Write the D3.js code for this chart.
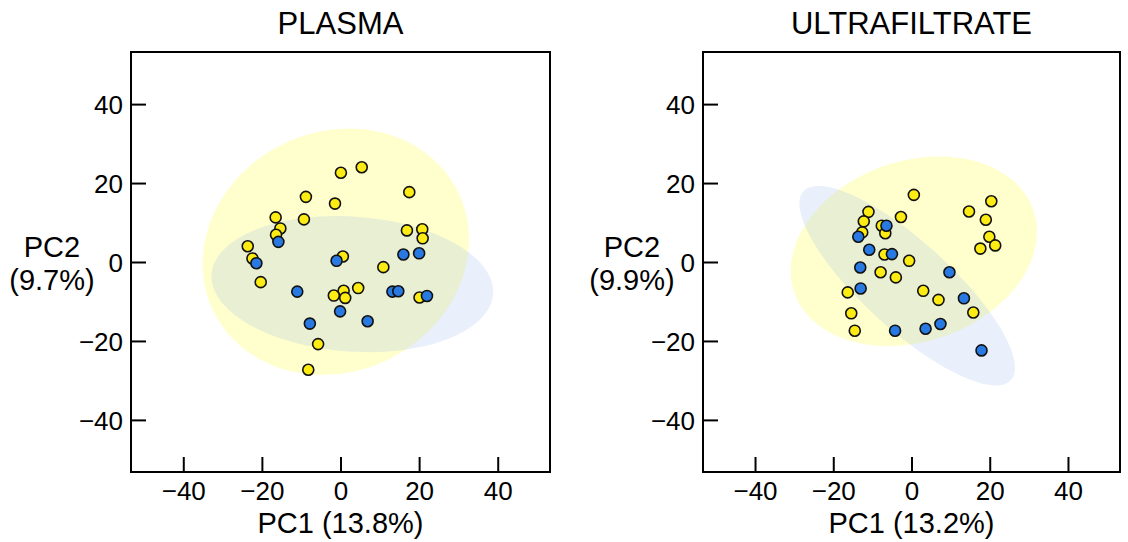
<!DOCTYPE html>
<html><head><meta charset="utf-8">
<script src="https://cdn.jsdelivr.net/npm/d3@7"></script>
<style>body{margin:0;background:#fff}svg{display:block}text{font-family:"Liberation Sans",Arial,sans-serif;fill:#000}</style>
</head><body><svg id="c" width="1128" height="542"></svg>
<script>
// ---- data ----
const panelTitles = ["PLASMA", "ULTRAFILTRATE"];
const xLabels = ["PC1 (13.8%)", "PC1 (13.2%)"];
const yLabels = [["PC2", "(9.7%)"], ["PC2", "(9.9%)"]];
const tickValues = [-40, -20, 0, 20, 40];

const plasmaYellowX = [0.1, 5.4, 17.5, -8.8, -1.4, -16.5, -9.3, -15.3, -16.4, 16.9, 20.8, 20.9, -23.6, -22.4, 0.6, 10.9, -20.3, 4.5, 0.8, -1.7, 1.2, 20.1, -5.7, -8.2];
const plasmaYellowY = [22.6, 24.0, 17.7, 16.5, 14.8, 11.3, 10.8, 8.5, 6.9, 8.0, 8.3, 6.0, 4.0, 0.9, 1.4, -1.3, -5.1, -6.6, -7.3, -8.5, -9.1, -9.0, -20.8, -27.3];
const plasmaBlueX = [-15.8, -21.4, -1.0, 16.0, 20.0, -11.0, 13.2, 14.7, 22.0, -0.1, -7.8, 6.9];
const plasmaBlueY = [5.1, -0.3, 0.3, 1.9, 2.2, -7.5, -7.5, -7.4, -8.6, -12.5, -15.6, -15.0];

const ultraYellowX = [0.6, 20.4, -11.0, 14.7, -2.7, -12.2, 19.0, -7.6, -6.7, -12.6, 19.9, 21.4, 17.6, -6.9, -0.6, -7.9, -4.0, -16.3, 3.0, 6.9, -15.4, 15.8, -14.5];
const ultraYellowY = [17.0, 15.4, 12.7, 12.8, 11.4, 10.3, 10.7, 9.2, 7.3, 7.5, 6.4, 4.2, 3.4, 1.9, 0.3, -2.6, -3.9, -7.7, -7.3, -9.6, -13.0, -12.8, -17.4];
const ultraBlueX = [-6.4, -13.6, -10.8, -5.0, -13.1, 9.7, -13.0, 13.4, 7.4, 3.6, -4.2, 17.9];
const ultraBlueY = [9.2, 6.4, 3.1, 2.0, -1.4, -2.6, -6.7, -9.2, -15.7, -16.9, -17.4, -22.4];

// ellipses: [cx, cy, semi-major, semi-minor, angle deg]
const plasmaYellowEllipse = [-1.2, 2.6, 34.6, 30.4, 25];
const plasmaBlueEllipse = [3.0, -5.6, 35.9, 17.1, -4];
const ultraYellowEllipse = [0.6, 2.7, 32.3, 22.9, 18.5];
const ultraBlueEllipse = [-1.1, -6.0, 35.7, 11.1, -42];

// ---- drawing ----
const svg = d3.select("#c");
const yellow = "#fcec14", blue = "#2979e3";

const panels = [
  {x0: 131, x1: 550, yx: [plasmaYellowX, plasmaYellowY], bx: [plasmaBlueX, plasmaBlueY], ye: plasmaYellowEllipse, be: plasmaBlueEllipse, ylabX: 52},
  {x0: 703, x1: 1120, yx: [ultraYellowX, ultraYellowY], bx: [ultraBlueX, ultraBlueY], ye: ultraYellowEllipse, be: ultraBlueEllipse, ylabX: 632}
];

panels.forEach((p, i) => {
  const x = d3.scaleLinear().domain([-53.3, 53.3]).range([p.x0, p.x1]);
  const y = d3.scaleLinear().domain([-53.2, 53.2]).range([472, 52]);
  const g = svg.append("g");

  const ell = (e) => {
    const [cx, cy, a, b, ang] = e;
    const t = ang * Math.PI / 180;
    const pts = d3.range(0, 361, 3).map(d => {
      const u = d * Math.PI / 180;
      const ex = a * Math.cos(u), ey = b * Math.sin(u);
      return [cx + ex * Math.cos(t) - ey * Math.sin(t), cy + ex * Math.sin(t) + ey * Math.cos(t)];
    });
    return d3.line().x(d => x(d[0])).y(d => y(d[1])).curve(d3.curveLinearClosed)(pts);
  };
  g.append("path").attr("d", ell(p.ye)).attr("fill", "#ffffc4").attr("fill-opacity", 0.85);
  g.append("path").attr("d", ell(p.be)).attr("fill", "#8fb0ea").attr("fill-opacity", 0.2);

  const drawPts = (xs, ys, col) => {
    g.selectAll(null).data(d3.zip(xs, ys)).enter().append("circle")
      .attr("cx", d => x(d[0])).attr("cy", d => y(d[1])).attr("r", 5.5)
      .attr("fill", col).attr("stroke", "#111").attr("stroke-width", 1.6);
  };
  drawPts(p.yx[0], p.yx[1], yellow);
  drawPts(p.bx[0], p.bx[1], blue);

  // frame
  g.append("rect").attr("x", p.x0).attr("y", 52).attr("width", p.x1 - p.x0).attr("height", 420)
    .attr("fill", "none").attr("stroke", "#000").attr("stroke-width", 2);

  // axes with inward ticks
  const xa = g.append("g").attr("transform", "translate(0,472)")
    .call(d3.axisBottom(x).tickValues(tickValues).tickSizeInner(-15).tickSizeOuter(0).tickPadding(10));
  const ya = g.append("g").attr("transform", `translate(${p.x0},0)`)
    .call(d3.axisLeft(y).tickValues(tickValues).tickSizeInner(-15).tickSizeOuter(0).tickPadding(8));
  [xa, ya].forEach(a => {
    a.select(".domain").remove();
    a.selectAll(".tick line").attr("stroke", "#000").attr("stroke-width", 2);
    a.selectAll(".tick text").attr("font-size", 26).attr("font-family", "Liberation Sans, Arial, sans-serif");
  });
  ya.selectAll(".tick text").attr("dy", "0.36em");

  const cx = (p.x0 + p.x1) / 2;
  g.append("text").attr("x", cx).attr("y", 34).attr("text-anchor", "middle").attr("font-size", 31).text(panelTitles[i]);
  g.append("text").attr("x", cx).attr("y", 533).attr("text-anchor", "middle").attr("font-size", 29).text(xLabels[i]);
  g.append("text").attr("x", p.ylabX).attr("y", 257).attr("text-anchor", "middle").attr("font-size", 29).text(yLabels[i][0]);
  g.append("text").attr("x", p.ylabX).attr("y", 290).attr("text-anchor", "middle").attr("font-size", 29).text(yLabels[i][1]);
});
</script></body></html>
